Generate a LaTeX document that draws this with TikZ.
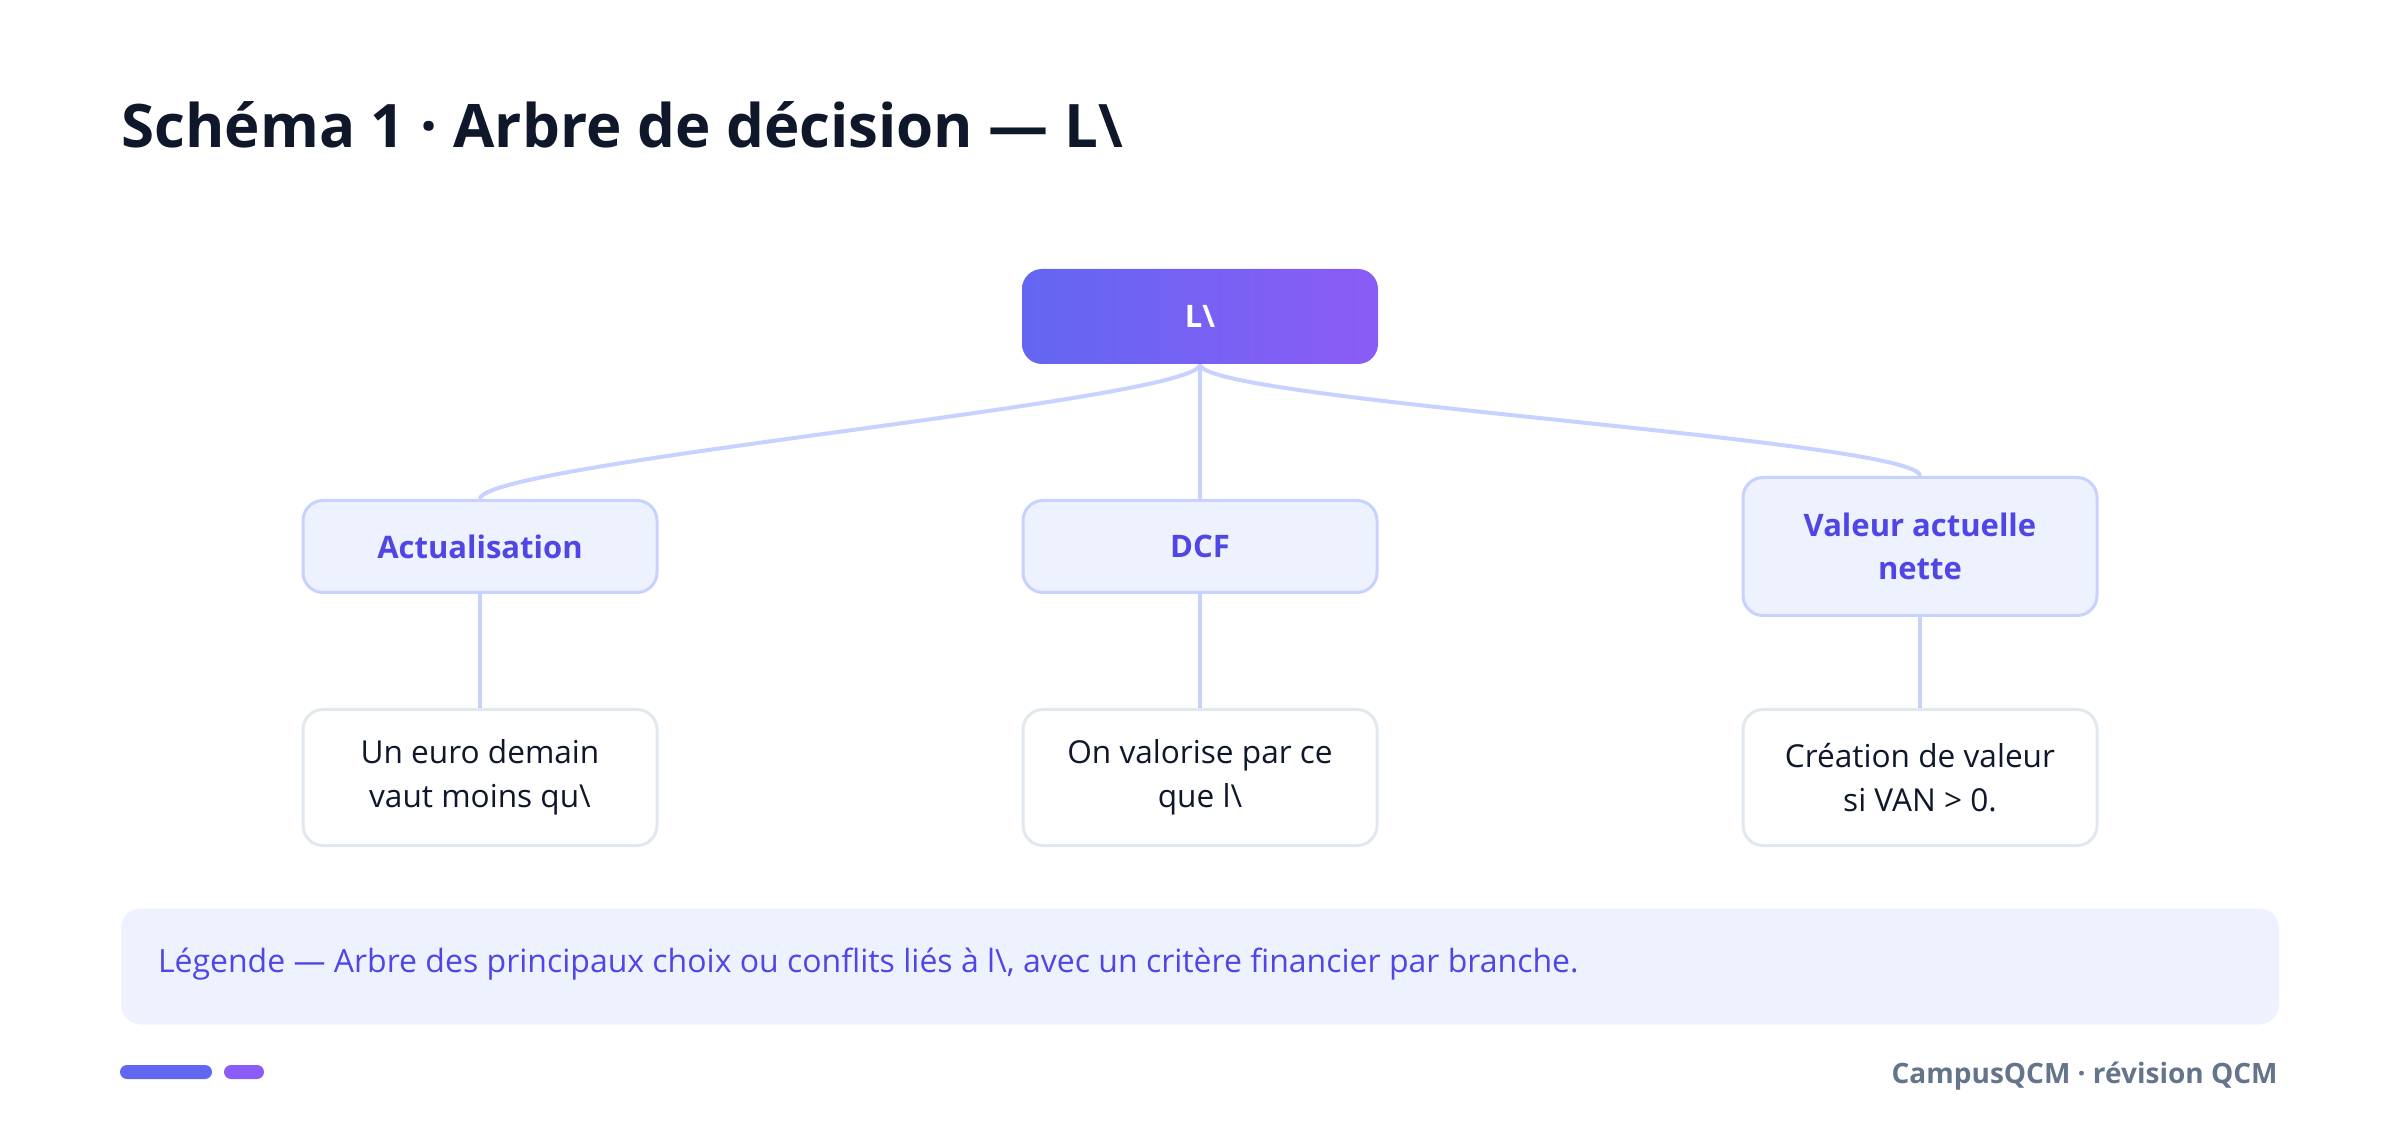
\documentclass[tikz,border=0pt]{standalone}
\usepackage{fontspec}
\setmainfont{Open Sans}
\usetikzlibrary{positioning}

\definecolor{ink}{HTML}{0F172A}
\definecolor{indigo}{HTML}{6366F1}
\definecolor{violet}{HTML}{8B5CF6}
\definecolor{accent}{HTML}{4F46E5}
\definecolor{pale}{HTML}{EEF2FF}
\definecolor{linkc}{HTML}{C7D2FE}
\definecolor{leafc}{HTML}{E2E8F0}
\definecolor{muted}{HTML}{64748B}

\tikzset{
  root/.style={rounded corners=10pt, left color=indigo, right color=violet,
    text=white, font=\bfseries\fontsize{15.5}{21.5}\selectfont,
    minimum width=178pt, minimum height=47.5pt, align=center},
  topic/.style={draw=linkc, line width=1.5pt, fill=pale, rounded corners=10pt,
    text=accent, font=\bfseries\fontsize{15.5}{21.5}\selectfont,
    minimum width=177pt, minimum height=46pt, align=center},
  leaf/.style={draw=leafc, line width=1.5pt, fill=white, rounded corners=10pt,
    text=ink, font=\fontsize{15.8}{22}\selectfont,
    minimum width=177pt, minimum height=68pt, align=center},
  link/.style={draw=linkc, line width=2pt},
}

\begin{document}
\begin{tikzpicture}[x=0.5pt, y=-0.5pt]
\useasboundingbox (0,0) rectangle (2400,1133);

\node[anchor=base west, inner sep=0, text=ink,
    font=\bfseries\fontsize{30}{36}\selectfont] (title) at (121,148)
    {Schéma 1 · Arbre de décision — L\textbackslash};

% racine et branches
\node[root] (r) at (1200,316.5) {L\textbackslash};

\node[topic] (t1) at (480,546.5) {Actualisation};
\node[topic] (t2) at (1200,546.5) {DCF};
\node[topic, minimum height=69pt] (t3) at (1920,546.5) {Valeur actuelle\\nette};

\node[leaf] (f1) at (480,777.5) {Un euro demain\\vaut moins qu\textbackslash};
\node[leaf] (f2) at (1200,777.5) {On valorise par ce\\que l\textbackslash};
\node[leaf] (f3) at (1920,777.5) {Création de valeur\\si VAN > 0.};

\draw[link] (r.south) .. controls +(0,36) and +(0,-36) .. (t1.north);
\draw[link] (r.south) -- (t2.north);
\draw[link] (r.south) .. controls +(0,36) and +(0,-36) .. (t3.north);

\draw[link] (t1.south) -- (f1.north);
\draw[link] (t2.south) -- (f2.north);
\draw[link] (t3.south) -- (f3.north);

% legende
\node[fill=pale, rounded corners=10pt, minimum width=1079pt,
    minimum height=58pt] (lg) at (1200,966.5) {};
\node[anchor=west, inner sep=0, text=accent,
    font=\fontsize{16}{19}\selectfont] (lgt) at ([xshift=18.5pt, yshift=1pt]lg.west)
    {Légende — Arbre des principaux choix ou conflits liés à l\textbackslash, avec un critère financier par branche.};

% pied de page
\fill[indigo, rounded corners=3.5pt] (120,1065) rectangle (212,1079);
\fill[violet, rounded corners=3.5pt] (224,1065) rectangle (264,1079);
\node[anchor=base east, inner sep=0, text=muted,
    font=\bfseries\fontsize{14}{17}\selectfont] (foot) at (2278,1083)
    {CampusQCM · révision QCM};
\end{tikzpicture}
\end{document}
